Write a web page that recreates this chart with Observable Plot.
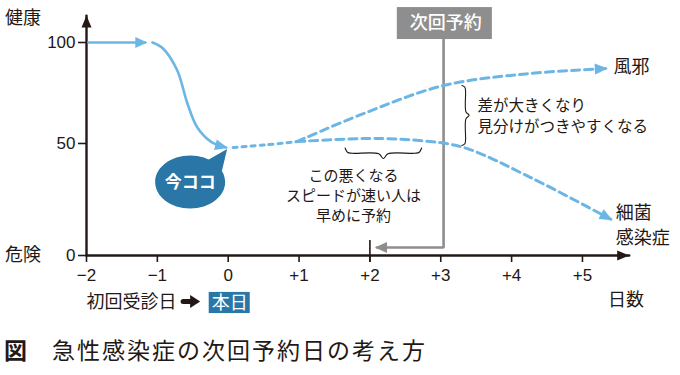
<!DOCTYPE html>
<html>
<head>
<meta charset="utf-8">
<script src="https://cdn.jsdelivr.net/npm/d3@7"></script>
<script src="https://cdn.jsdelivr.net/npm/@observablehq/plot@0.6"></script>
<style>
  body { margin: 0; background: #fff; width: 680px; height: 375px; position: relative; overflow: hidden; }
  #caption { position: absolute; left: 4px; top: 338px; font-family: "Noto Sans CJK JP", sans-serif; font-size: 23px; line-height: 23px; color: #231815; white-space: nowrap; }
  #caption b { font-weight: 700; }
  #caption span { margin-left: 25px; letter-spacing: 2px; }
</style>
</head>
<body>
<div id="chart"></div>
<div id="caption"><b>図</b><span>急性感染症の次回予約日の考え方</span></div>
<script>
// ---- data (days from today, health score) ----
const xTicks = [-2, -1, 0, 1, 2, 3, 4, 5];
const yTicks = [0, 50, 100];

const flatDays = [-1.97, -1.17];
const flatHealth = [100, 100];

const dropDays = [-1.07, -0.92, -0.72, -0.58, -0.44, -0.24, -0.03];
const dropHealth = [100, 97, 86, 70, 58, 50.8, 48.1];

const nowDays = [0.07, 0.52, 0.97];
const nowHealth = [48.1, 49.3, 50.9];

const coldDays = [0.97, 1.9, 3.04, 4.2, 5.33];
const coldHealth = [50.9, 64.4, 78.4, 84.2, 86.9];

const bactDays = [0.97, 2.0, 2.7, 3.32, 4.27, 5.40];
const bactHealth = [50.9, 52.4, 51.4, 48.1, 33.8, 14.8];

// next-appointment guide (gray)
const apptDays = [3.04, 3.04, 2.1];
const apptHealth = [101.5, 2.9, 2.9];

// annotation positions
const apptBox = {x1: 2.387, x2: 3.729, y1: 101.5, y2: 117.8, x: 3.058, y: 109.7, text: "次回予約"};
const todayBox = {x1: -0.268, x2: 0.311, y1: -15.1, y2: -24.6, x: 0.021, y: -19.8, text: "本日"};
const bubble = {x: -0.537, y: 31.7, text: "今ココ"};

const labels = [
  {x: -3.15, y: 112.5, text: "健康", anchor: "start", size: 18},
  {x: -3.15, y: 0, text: "危険", anchor: "start", size: 18},
  {x: 5.44, y: 87.4, text: "風邪", anchor: "start", size: 18},
  {x: 5.47, y: 17.4, text: "細菌", anchor: "start", size: 18},
  {x: 5.47, y: 6.5, text: "感染症", anchor: "start", size: 18},
  {x: 5.36, y: -18.7, text: "日数", anchor: "start", size: 18},
  {x: -0.73, y: -19.6, text: "初回受診日", anchor: "end", size: 18},
  {x: 1.77, y: 34.3, text: "この悪くなる", anchor: "middle", size: 15},
  {x: 1.77, y: 25.0, text: "スピードが速い人は", anchor: "middle", size: 15},
  {x: 1.77, y: 16.0, text: "早めに予約", anchor: "middle", size: 15},
  {x: 3.52, y: 68.0, text: "差が大きくなり", anchor: "start", size: 15.5},
  {x: 3.52, y: 58.2, text: "見分けがつきやすくなる", anchor: "start", size: 15.5}
];

const braceH = {from: 1.65, to: 2.73, at: 47.8, depth: 5.0};   // under the lower curve
const braceV = {from: 78.4, to: 49.0, at: 3.30, depth: 0.10};  // between the two curves
const markArrow = {days: [-0.636, -0.537], health: [-19.1, -19.1]};

// ---- helpers ----
const JP = "'Noto Sans CJK JP', 'Noto Sans CJK SC', sans-serif";
const NUM = "'Liberation Sans', Arial, sans-serif";
const BLUE = "#6cb6e6";
const DARK = "#2a76a6";
const GRAY = "#8e8e8e";
const INK = "#231815";

function zip(xs, ys) { return xs.map((x, i) => ({x, y: ys[i]})); }

function tri(len, wid, back) {
  return (color) => {
    const ns = "http://www.w3.org/2000/svg";
    const m = document.createElementNS(ns, "marker");
    m.setAttribute("viewBox", `0 0 ${len} ${wid}`);
    m.setAttribute("markerWidth", len);
    m.setAttribute("markerHeight", wid);
    m.setAttribute("markerUnits", "userSpaceOnUse");
    m.setAttribute("refX", len - back);
    m.setAttribute("refY", wid / 2);
    m.setAttribute("orient", "auto");
    m.setAttribute("overflow", "visible");
    const p = document.createElementNS(ns, "path");
    p.setAttribute("d", `M0,0L${len},${wid / 2}L0,${wid}Z`);
    p.setAttribute("fill", color);
    p.setAttribute("stroke", "none");
    p.setAttribute("stroke-dasharray", "none");
    m.appendChild(p);
    return m;
  };
}

function hBrace(b) {
  const m = (b.from + b.to) / 2, e = (b.to - b.from) * 0.06, d = b.depth;
  return [
    {x: b.from, y: b.at}, {x: b.from + e * 0.5, y: b.at - d * 0.4}, {x: b.from + e * 1.5, y: b.at - d * 0.5},
    {x: m - e, y: b.at - d * 0.55}, {x: m, y: b.at - d},
    {x: m + e, y: b.at - d * 0.55}, {x: b.to - e * 1.5, y: b.at - d * 0.5},
    {x: b.to - e * 0.5, y: b.at - d * 0.4}, {x: b.to, y: b.at}
  ];
}
function vBrace(b) {
  const m = (b.from + b.to) / 2, e = (b.from - b.to) * 0.06, d = b.depth;
  return [
    {x: b.at, y: b.from}, {x: b.at + d * 0.4, y: b.from - e * 0.5}, {x: b.at + d * 0.5, y: b.from - e * 1.5},
    {x: b.at + d * 0.55, y: m + e}, {x: b.at + d, y: m},
    {x: b.at + d * 0.55, y: m - e}, {x: b.at + d * 0.5, y: b.to + e * 1.5},
    {x: b.at + d * 0.4, y: b.to + e * 0.5}, {x: b.at, y: b.to}
  ];
}

// speech bubble symbol (ellipse + tail), pixel geometry
const bubbleSymbol = {
  draw(ctx) {
    const rx = 35, ry = 26.5, k = 0.5523;
    ctx.moveTo(rx, 0);
    ctx.bezierCurveTo(rx, ry * k, rx * k, ry, 0, ry);
    ctx.bezierCurveTo(-rx * k, ry, -rx, ry * k, -rx, 0);
    ctx.bezierCurveTo(-rx, -ry * k, -rx * k, -ry, 0, -ry);
    ctx.bezierCurveTo(rx * k, -ry, rx, -ry * k, rx, 0);
    ctx.closePath();
    ctx.moveTo(16, -21);
    ctx.lineTo(37, -33);
    ctx.lineTo(31, -8);
    ctx.closePath();
  }
};

const tickFmt = d => d > 0 ? "+" + d : d < 0 ? "\u2212" + Math.abs(d) : "0";
const labelMark = (anchor) => Plot.text(labels.filter(d => d.anchor === anchor),
  {x: "x", y: "y", text: "text", textAnchor: anchor, fontSize: d => d.size, fill: INK, fontFamily: JP});

const chart = Plot.plot({
  width: 680,
  height: 330,
  marginLeft: 86,
  marginRight: 52,
  marginTop: 42,
  marginBottom: 75,
  style: {background: "#fff", color: INK, overflow: "visible"},
  x: {domain: [-2, 5.65], range: [86, 628]},
  y: {type: "pow", exponent: 0.927, domain: [0, 100], range: [255, 42]},
  marks: [
    // axes
    Plot.axisX({ticks: xTicks, tickFormat: tickFmt, tickSize: 7, tickPadding: 6, fontSize: 17, fontFamily: NUM, stroke: INK, strokeWidth: 1.6, label: null}),
    Plot.axisY({ticks: yTicks, tickFormat: d => String(d), tickSize: 8, tickPadding: 3, fontSize: 17, fontFamily: NUM, stroke: INK, strokeWidth: 1.6, label: null}),
    Plot.line(zip([-2, -2], [0, 113.7]), {x: "x", y: "y", stroke: INK, strokeWidth: 2.4, markerEnd: tri(12, 10, 0)}),
    Plot.line(zip([-2, 5.66], [0, 0]), {x: "x", y: "y", stroke: INK, strokeWidth: 2.4, markerEnd: tri(12, 10, 0)}),
    Plot.ruleX([2], {y1: -2.5, y2: 5.7, stroke: INK, strokeWidth: 1.6}),

    // gray appointment guide
    Plot.line(zip(apptDays, apptHealth), {x: "x", y: "y", stroke: GRAY, strokeWidth: 2.6, strokeLinejoin: "miter", markerEnd: tri(12, 11, 2)}),
    Plot.rect([apptBox], {x1: "x1", x2: "x2", y1: "y1", y2: "y2", fill: GRAY}),
    Plot.text([apptBox], {x: "x", y: "y", text: "text", fill: "#fff", fontSize: 18, fontFamily: JP, fontWeight: 500, dx: 1}),

    // health curves
    Plot.line(zip(flatDays, flatHealth), {x: "x", y: "y", stroke: BLUE, strokeWidth: 2.6, markerEnd: tri(12, 11, 2)}),
    Plot.line(zip(dropDays, dropHealth), {x: "x", y: "y", stroke: BLUE, strokeWidth: 2.6, curve: "catmull-rom", markerEnd: tri(13, 11, 2)}),
    Plot.line(zip(nowDays, nowHealth), {x: "x", y: "y", stroke: BLUE, strokeWidth: 3, strokeDasharray: "4,5", curve: "catmull-rom"}),
    Plot.line(zip(coldDays, coldHealth), {x: "x", y: "y", stroke: BLUE, strokeWidth: 3, strokeDasharray: "8,5", curve: "catmull-rom", markerEnd: tri(13, 11, 2)}),
    Plot.line(zip(bactDays, bactHealth), {x: "x", y: "y", stroke: BLUE, strokeWidth: 3, strokeDasharray: "8,5", curve: "catmull-rom", markerEnd: tri(13, 11, 2)}),

    // braces
    Plot.line(hBrace(braceH), {x: "x", y: "y", stroke: INK, strokeWidth: 1.1, curve: "catmull-rom"}),
    Plot.line(vBrace(braceV), {x: "x", y: "y", stroke: INK, strokeWidth: 1.1, curve: "catmull-rom"}),

    // speech bubble
    Plot.dot([bubble], {x: "x", y: "y", symbol: bubbleSymbol, fill: DARK, stroke: "none"}),
    Plot.text([bubble], {x: "x", y: "y", text: "text", fill: "#fff", fontSize: 17, fontWeight: 700, fontFamily: JP}),

    // today box and arrow
    Plot.line(zip(markArrow.days, markArrow.health), {x: "x", y: "y", stroke: INK, strokeWidth: 5, markerEnd: tri(10, 13, 10)}),
    Plot.rect([todayBox], {x1: "x1", x2: "x2", y1: "y1", y2: "y2", fill: DARK}),
    Plot.text([todayBox], {x: "x", y: "y", text: "text", fill: "#fff", fontSize: 18, fontFamily: JP}),

    // labels
    labelMark("start"),
    labelMark("middle"),
    labelMark("end")
  ]
});
document.getElementById("chart").appendChild(chart);
</script>
</body>
</html>
